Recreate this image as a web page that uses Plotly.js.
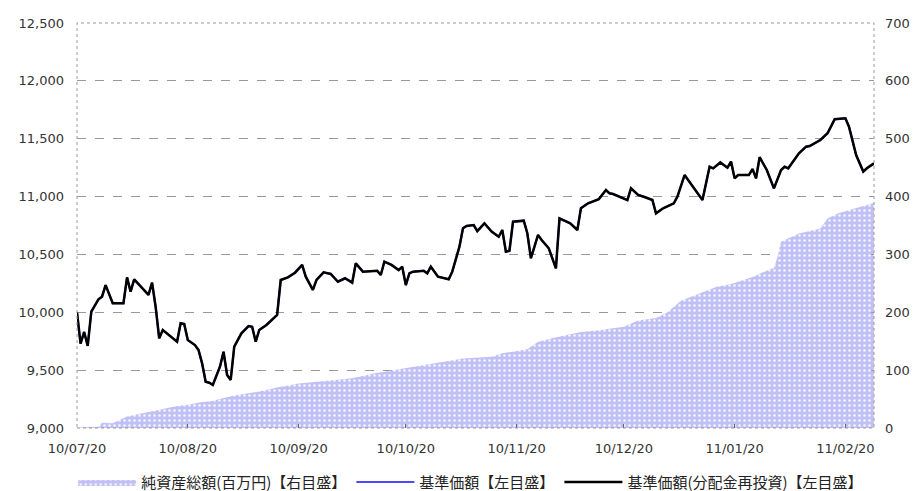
<!DOCTYPE html>
<html>
<head>
<meta charset="utf-8">
<script src="https://cdn.plot.ly/plotly-3.0.1.min.js"></script>
<style>html,body{margin:0;padding:0;background:#fff;}#chart{width:914px;height:491px;}</style>
</head>
<body>
<div id="chart"></div>
<script>
// 基準価額（分配金再投資） — left axis
const navDates = ["2010-07-20","2010-07-21","2010-07-22","2010-07-23","2010-07-24","2010-07-25","2010-07-26","2010-07-27","2010-07-28","2010-07-30",
"2010-08-02","2010-08-03","2010-08-04","2010-08-05","2010-08-06","2010-08-09","2010-08-10","2010-08-11","2010-08-12","2010-08-13",
"2010-08-17","2010-08-18","2010-08-19","2010-08-20","2010-08-22","2010-08-23","2010-08-24","2010-08-25","2010-08-26","2010-08-27",
"2010-08-29","2010-08-30","2010-08-31","2010-09-01","2010-09-02","2010-09-03","2010-09-04","2010-09-06","2010-09-07","2010-09-08",
"2010-09-09","2010-09-11","2010-09-12","2010-09-14","2010-09-15","2010-09-17","2010-09-19","2010-09-21","2010-09-22","2010-09-24",
"2010-09-25","2010-09-27","2010-09-29","2010-10-01","2010-10-03","2010-10-05","2010-10-06","2010-10-08","2010-10-12","2010-10-13",
"2010-10-14","2010-10-16","2010-10-18","2010-10-19","2010-10-20","2010-10-21","2010-10-22","2010-10-25","2010-10-26","2010-10-27",
"2010-10-29","2010-11-01","2010-11-02","2010-11-04","2010-11-05","2010-11-06","2010-11-08","2010-11-09","2010-11-11","2010-11-13",
"2010-11-15","2010-11-16","2010-11-17","2010-11-18","2010-11-19","2010-11-22","2010-11-23","2010-11-24","2010-11-26","2010-11-27",
"2010-11-29","2010-12-01","2010-12-02","2010-12-05","2010-12-07","2010-12-08","2010-12-10","2010-12-13","2010-12-15","2010-12-16",
"2010-12-17","2010-12-21","2010-12-22","2010-12-24","2010-12-26","2010-12-28","2010-12-29","2010-12-31","2011-01-03","2011-01-04",
"2011-01-06","2011-01-08","2011-01-11","2011-01-13","2011-01-14","2011-01-16","2011-01-18","2011-01-19","2011-01-20","2011-01-21",
"2011-01-24","2011-01-25","2011-01-26","2011-01-27","2011-01-29","2011-01-31","2011-02-02","2011-02-03","2011-02-04","2011-02-07",
"2011-02-09","2011-02-10","2011-02-13","2011-02-15","2011-02-17","2011-02-20","2011-02-21","2011-02-23","2011-02-25","2011-02-26",
"2011-02-28"];
const navValues = [10000,9730,9830,9710,10005,10063,10112,10135,10235,10078,
10078,10302,10178,10285,10250,10150,10256,10048,9775,9847,
9746,9905,9899,9760,9717,9674,9559,9400,9391,9372,
9530,9659,9458,9415,9703,9760,9818,9881,9875,9746,
9847,9890,9919,9977,10279,10302,10342,10409,10308,10193,
10279,10345,10331,10264,10294,10256,10423,10351,10359,10322,
10437,10409,10365,10394,10235,10337,10351,10359,10337,10394,
10308,10285,10351,10567,10726,10746,10754,10702,10769,10697,
10653,10711,10524,10532,10783,10792,10683,10467,10668,10625,
10553,10380,10812,10769,10711,10899,10942,10978,11057,11028,
11022,10970,11071,11014,10994,10970,10855,10899,10942,11000,
11186,11100,10970,11258,11244,11295,11250,11302,11158,11186,
11186,11238,11158,11340,11230,11071,11230,11258,11244,11374,
11431,11437,11489,11547,11668,11676,11604,11359,11216,11244,
11287];

// 純資産総額（百万円） — right axis
const assetDates = ["2010-07-20","2010-07-26","2010-07-27","2010-07-30","2010-08-03","2010-08-07","2010-08-10","2010-08-12","2010-08-17","2010-08-20",
"2010-08-24","2010-08-26","2010-08-29","2010-09-02","2010-09-09","2010-09-14","2010-09-20","2010-09-29","2010-10-05","2010-10-11",
"2010-10-17","2010-10-23","2010-10-29","2010-11-05","2010-11-13","2010-11-16","2010-11-23","2010-11-26","2010-12-02","2010-12-08",
"2010-12-13","2010-12-20","2010-12-24","2010-12-29","2011-01-01","2011-01-05","2011-01-10","2011-01-15","2011-01-19","2011-01-25",
"2011-01-30","2011-01-31","2011-02-01","2011-02-02","2011-02-07","2011-02-13","2011-02-15","2011-02-18","2011-02-24","2011-02-28"];
const assetValues = [1,2,9,8,20,25,28,31,38,40,
45,46,50,56,63,70,77,83,86,94,
100,106,112,120,123,129,136,149,158,166,
169,175,186,190,199,220,232,244,249,261,
275,276,296,322,336,345,362,371,382,389];

const tickDates = ["2010-07-20","2010-08-20","2010-09-20","2010-10-20","2010-11-20","2010-12-20","2011-01-20","2011-02-20"];
const tickLabels = ["10/07/20","10/08/20","10/09/20","10/10/20","10/11/20","10/12/20","11/01/20","11/02/20"];

const seriesNames = ["純資産総額(百万円)【右目盛】","基準価額【左目盛】","基準価額(分配金再投資)【左目盛】"];

const tickFont = {family: "DejaVu Sans, sans-serif", size: 13, color: "#333"};

const traces = [
  {
    x: assetDates, y: assetValues, yaxis: "y2", type: "scatter", mode: "lines",
    name: seriesNames[0], fill: "tozeroy",
    line: {width: 0, color: "#c0c0f6"},
    fillcolor: "#c0c0f6",
    fillpattern: {shape: ".", bgcolor: "#c0c0f6", fgcolor: "#f6f6ff", size: 5, solidity: 0.2}
  },
  {
    x: navDates, y: navValues, type: "scatter", mode: "lines",
    name: seriesNames[1], line: {color: "#4a4aff", width: 2}
  },
  {
    x: navDates, y: navValues, type: "scatter", mode: "lines",
    name: seriesNames[2], line: {color: "#000000", width: 2.5}
  }
];

const layout = {
  width: 914, height: 491,
  margin: {l: 77, r: 40, t: 23, b: 63},
  paper_bgcolor: "#fff", plot_bgcolor: "#fff",
  showlegend: true,
  legend: {
    orientation: "h", xref: "container", yref: "container",
    x: 0.515, xanchor: "center", y: 0.018, yanchor: "middle",
    font: {family: "Noto Sans CJK JP, sans-serif", size: 15, color: "#222"},
    itemwidth: 58, traceorder: "normal", tracegroupgap: 0
  },
  xaxis: {
    type: "date", range: ["2010-07-20", "2011-02-28"],
    tickmode: "array", tickvals: tickDates, ticktext: tickLabels,
    showgrid: false, zeroline: false, showline: false,
    ticks: "inside", ticklen: 4, tickcolor: "#666",
    tickfont: tickFont, ticklabelstandoff: 11
  },
  yaxis: {
    range: [9000, 12500], dtick: 500, tickformat: ",d",
    showgrid: true, gridcolor: "#999", griddash: "dash", gridwidth: 1,
    zeroline: false, showline: false,
    ticks: "", tickfont: tickFont, ticklabelstandoff: 12
  },
  yaxis2: {
    overlaying: "y", side: "right", range: [0, 700], dtick: 100,
    showgrid: false, zeroline: false, showline: false,
    ticks: "inside", ticklen: 3, tickcolor: "#999",
    tickfont: tickFont, ticklabelstandoff: 10
  },
  shapes: [
    {type: "rect", xref: "paper", yref: "paper", x0: 0, x1: 1, y0: 0, y1: 1,
     line: {color: "#999", width: 1, dash: "dot"}, fillcolor: "rgba(0,0,0,0)", layer: "above"}
  ]
};

Plotly.newPlot("chart", traces, layout, {displayModeBar: false, staticPlot: true});
</script>
</body>
</html>
